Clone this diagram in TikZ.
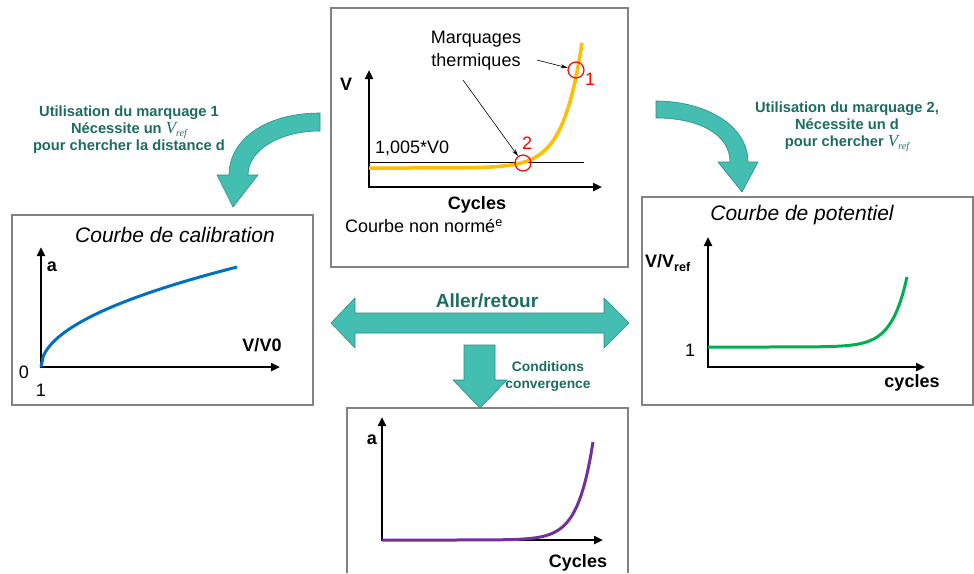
\documentclass[tikz,border=0pt]{standalone}
\usepackage{fontspec}
\setmainfont{Liberation Sans}
\newfontfamily\timesit{Liberation Serif}
\usepackage{tikz}
\usetikzlibrary{arrows.meta, positioning, calc}
\definecolor{tealfill}{RGB}{68,190,177}
\definecolor{tealedge}{RGB}{40,140,128}
\definecolor{tealdark}{RGB}{28,108,96}
\definecolor{courbeor}{RGB}{255,190,0}
\definecolor{courbebleu}{RGB}{0,112,192}
\definecolor{courbevert}{RGB}{0,176,80}
\definecolor{courbeviolet}{RGB}{112,48,160}
\definecolor{bordgris}{RGB}{130,130,130}
\newcommand{\Vref}{{\timesit\mdseries\itshape\fontsize{17}{17}\selectfont V\raisebox{-0.35ex}{\fontsize{10}{10}\selectfont ref}}}

\begin{document}
\begin{tikzpicture}[x=1pt, y=-1pt,
  boite/.style={draw=bordgris, line width=1.3pt},
  axe/.style={line width=2.6pt, {Triangle[length=9pt,width=8pt]}-{Triangle[length=9pt,width=8pt]}},
  fleche/.style={fill=tealfill, draw=tealedge, line width=0.6pt},
  annot/.style={line width=0.6pt, -{Stealth[length=7pt,width=4pt]}},
  txt/.style={font=\fontsize{18}{23}\selectfont, inner sep=0pt},
  txtb/.style={font=\fontsize{18}{23}\selectfont\bfseries, inner sep=0pt},
  titre/.style={font=\fontsize{21}{25}\selectfont\itshape, inner sep=0pt},
  note/.style={font=\fontsize{14.7}{17}\selectfont\bfseries, text=tealdark, align=center, inner sep=0pt},
  repere/.style={draw=red, line width=1.2pt, circle, minimum size=16pt, inner sep=0pt}]
\useasboundingbox (0,0) rectangle (974,573);

% Boxes
\draw[boite] (331,8) rectangle (628,267);
\draw[boite] (12,215) rectangle (313,405);
\draw[boite] (642,197) rectangle (973,405);
\draw[boite] (347,573) -- (347,408) -- (628,408) -- (628,573);

% Courbe non normee (top)
\draw[axe] (369,70) -- (369,187) -- (602,187);
\draw[line width=0.8pt] (369,162) -- (584,162);
\draw[courbeor, line width=3.5pt] plot[domain=369:582, samples=90] (\x, {168-125*exp(0.0526*(\x-582))});
\node[repere] (m1) at (576,70) {};
\node[repere] (m2) at (523,163) {};
\node[txt, text=red] (n1) at (590,79) {1};
\node[txt, text=red] (n2) at (527,143) {2};
\node[txt, align=center] (marq) at (476,51) {Marquages\\thermiques};
\coordinate (a1) at (537,60);
\coordinate (a2) at (463,80);
\draw[annot] (a1) -- (m1);
\draw[annot] (a2) -- (m2);
\node[txtb] (v) at (346,84) {V};
\node[txt, anchor=west] (seuil) at (375,148) {1,005*V0};
\node[txtb] (cyc1) at (477,205) {Cycles};
\node[txt, anchor=west] (nonnorme) at (345,226) {Courbe non normé\textsuperscript{e}};

% Courbe de calibration (left)
\node[titre] (tcal) at (175,235) {Courbe de calibration};
\draw[axe] (41,247) -- (41,367) -- (280,367);
\draw[courbebleu, line width=3pt] plot[domain=41:237, samples=90] (\x, {367-7.14*sqrt(\x-41)});
\node[txtb] (acal) at (52,267) {a};
\node[txtb] (vcal) at (262,345) {V/V0};
\node[txt] (zero) at (24,372) {0};
\node[txt] (un) at (41,390) {1};

% Courbe de potentiel (right)
\node[titre] (tpot) at (802,215) {Courbe de potentiel};
\draw[axe] (708,237) -- (708,367) -- (925,367);
\draw[courbevert, line width=3pt] plot[domain=708:907, samples=90] (\x, {347-70*exp(0.065*(\x-907))});
\node[txtb, anchor=west] (vref) at (645,263) {V/V\textsubscript{ref}};
\node[txt] (unpot) at (690,350) {1};
\node[txtb] (cycpot) at (912,383) {cycles};

% Courbe a (bottom)
\draw[axe] (382,417) -- (382,540) -- (603,540);
\draw[courbeviolet, line width=3pt] plot[domain=382:593, samples=90] (\x, {540-98*exp(0.066*(\x-593))});
\node[txtb] (abas) at (372,440) {a};
\node[txtb] (cycbas) at (578,563) {Cycles};

% Block arrows
\draw[fleche] (320,113) .. controls (265,113) and (229,140) .. (229,175) -- (217,175) -- (233,207)
  -- (258,175) -- (248,175) .. controls (248,150) and (280,131) .. (320,131) -- cycle;
\draw[fleche] (656,101) .. controls (705,101) and (748,125) .. (748,162) -- (758,162) -- (742,192)
  -- (718,162) -- (730,162) .. controls (730,135) and (700,118) .. (656,118) -- cycle;
\draw[fleche] (331,323) -- (355,298) -- (355,313) -- (604,313) -- (604,298) -- (629,323)
  -- (604,348) -- (604,333) -- (355,333) -- (355,348) -- cycle;
\draw[fleche] (464,345) -- (495,345) -- (495,380) -- (507,380) -- (480,408) -- (453,380) -- (464,380) -- cycle;

% Notes
\node[note] (notecal) at (129,130) {Utilisation du marquage 1\\Nécessite un \Vref\\pour chercher la distance d};
\node[note] (notepot) at (847,127) {Utilisation du marquage 2,\\Nécessite un d\\pour chercher \Vref};
\node[note, font=\fontsize{19}{22}\selectfont\bfseries] (aller) at (487,301) {Aller/retour};
\node[note, font=\fontsize{13.8}{17}\selectfont\bfseries] (conv) at (548,376) {Conditions\\convergence};
\end{tikzpicture}
\end{document}
